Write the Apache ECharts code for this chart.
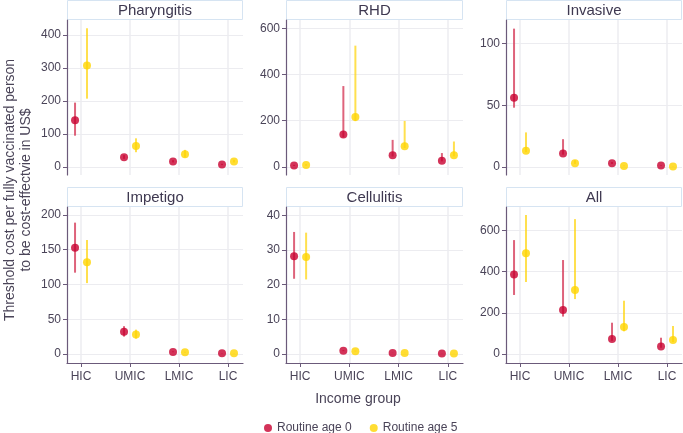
<!DOCTYPE html>
<html><head><meta charset="utf-8">
<script src="https://cdn.jsdelivr.net/npm/echarts@6/dist/echarts.min.js"></script>
<style>html,body{margin:0;padding:0;background:#fff}#c{width:683px;height:433px}</style>
</head><body><div id="c"></div>
<script>
const categories = ['HIC', 'UMIC', 'LMIC', 'LIC'];
const panels = ['Pharyngitis', 'RHD', 'Invasive', 'Impetigo', 'Cellulitis', 'All'];
const seriesNames = ['Routine age 0', 'Routine age 5'];

// point estimates [HIC, UMIC, LMIC, LIC]
const pharyngitis_age0 = [142, 30, 17, 8];
const pharyngitis_age0_lo = [95, 25, 14, 6];
const pharyngitis_age0_hi = [195, 36, 21, 10];
const pharyngitis_age5 = [307, 64, 39, 17];
const pharyngitis_age5_lo = [207, 45, 29, 14];
const pharyngitis_age5_hi = [420, 87, 52, 22];

const rhd_age0 = [6, 140, 51, 27];
const rhd_age0_lo = [4, 128, 45, 24];
const rhd_age0_hi = [9, 350, 117, 60];
const rhd_age5 = [8, 216, 89, 50];
const rhd_age5_lo = [5, 198, 82, 46];
const rhd_age5_hi = [12, 525, 199, 110];

const invasive_age0 = [56, 11, 3, 1.1];
const invasive_age0_lo = [48, 10, 2.5, 0.9];
const invasive_age0_hi = [112, 22.5, 4, 1.4];
const invasive_age5 = [13.2, 3, 0.8, 0.3];
const invasive_age5_lo = [12, 2.5, 0.6, 0.2];
const invasive_age5_hi = [28, 5.5, 1.2, 0.5];

const impetigo_age0 = [153, 32, 3, 1];
const impetigo_age0_lo = [117, 25, 2.5, 0.8];
const impetigo_age0_hi = [189, 40, 3.8, 1.3];
const impetigo_age5 = [132, 28, 2.5, 1];
const impetigo_age5_lo = [102, 22, 2, 0.8];
const impetigo_age5_hi = [164, 35, 3.2, 1.3];

const cellulitis_age0 = [28.2, 0.9, 0.3, 0.15];
const cellulitis_age0_lo = [21.7, 0.8, 0.25, 0.12];
const cellulitis_age0_hi = [35.2, 1.1, 0.35, 0.18];
const cellulitis_age5 = [28, 0.8, 0.3, 0.15];
const cellulitis_age5_lo = [21.5, 0.7, 0.25, 0.12];
const cellulitis_age5_hi = [35, 1.0, 0.35, 0.18];

const all_age0 = [386, 214, 73, 36];
const all_age0_lo = [287, 182, 64, 30];
const all_age0_hi = [554, 457, 152, 79];
const all_age5 = [490, 311, 131, 68];
const all_age5_lo = [350, 267, 110, 58];
const all_age5_hi = [676, 656, 259, 136];

// y tick labels per panel
const yTicks_pharyngitis = [0, 100, 200, 300, 400];
const yTicks_rhd = [0, 200, 400, 600];
const yTicks_invasive = [0, 50, 100];
const yTicks_impetigo = [0, 50, 100, 150, 200];
const yTicks_cellulitis = [0, 10, 20, 30, 40];
const yTicks_all = [0, 200, 400, 600];

const panelData = [
  {v0: pharyngitis_age0, l0: pharyngitis_age0_lo, h0: pharyngitis_age0_hi, v5: pharyngitis_age5, l5: pharyngitis_age5_lo, h5: pharyngitis_age5_hi, ticks: yTicks_pharyngitis, min: -24, max: 445},
  {v0: rhd_age0, l0: rhd_age0_lo, h0: rhd_age0_hi, v5: rhd_age5, l5: rhd_age5_lo, h5: rhd_age5_hi, ticks: yTicks_rhd, min: -35, max: 636},
  {v0: invasive_age0, l0: invasive_age0_lo, h0: invasive_age0_hi, v5: invasive_age5, l5: invasive_age5_lo, h5: invasive_age5_hi, ticks: yTicks_invasive, min: -6.5, max: 119},
  {v0: impetigo_age0, l0: impetigo_age0_lo, h0: impetigo_age0_hi, v5: impetigo_age5, l5: impetigo_age5_lo, h5: impetigo_age5_hi, ticks: yTicks_impetigo, min: -13, max: 211.5},
  {v0: cellulitis_age0, l0: cellulitis_age0_lo, h0: cellulitis_age0_hi, v5: cellulitis_age5, l5: cellulitis_age5_lo, h5: cellulitis_age5_hi, ticks: yTicks_cellulitis, min: -2.6, max: 42.4},
  {v0: all_age0, l0: all_age0_lo, h0: all_age0_hi, v5: all_age5, l5: all_age5_lo, h5: all_age5_hi, ticks: yTicks_all, min: -44, max: 715}
];

const FONT = '"Liberation Sans", Arial, sans-serif';
const TXT = '#4a4458';
const AXIS = '#6b5a7a';
const GRIDC = '#ececf0';
const RED = '#c8002f', RED_BAR = 'rgba(214,60,90,0.8)';
const YEL = '#ffd400', YEL_BAR = 'rgba(255,214,20,0.75)';
const DODGE = 0.122;

const colLeft = [67, 286, 506];
const colW = [176, 177, 176];
const rowTop = [20, 207];
const rowH = [155, 156];

const grids = [], xAxes = [], yAxes = [], series = [], graphics = [];
panels.forEach((name, i) => {
  const r = Math.floor(i / 3), c = i % 3;
  const pd = panelData[i];
  const bottomRow = r === 1;
  grids.push({left: colLeft[c], top: rowTop[r], width: colW[c], height: rowH[r], containLabel: false});
  xAxes.push({
    type: 'value', gridIndex: i, min: 0.714, max: 4.306,
    axisLine: {show: bottomRow, onZero: false, lineStyle: {color: AXIS, width: 1.2}},
    axisTick: {show: bottomRow, customValues: [1, 2, 3, 4], length: 4, lineStyle: {color: AXIS}},
    axisLabel: {show: bottomRow, customValues: [1, 2, 3, 4], formatter: v => categories[Math.round(v) - 1] || '',
      color: TXT, fontFamily: FONT, fontSize: 12, margin: 8},
    splitLine: {show: true, lineStyle: {color: GRIDC, width: 1.5}}
  });
  yAxes.push({
    type: 'value', gridIndex: i, min: pd.min, max: pd.max,
    axisLine: {show: true, onZero: false, lineStyle: {color: AXIS, width: 1.2}},
    axisTick: {show: true, customValues: pd.ticks, length: 4, lineStyle: {color: AXIS}},
    axisLabel: {customValues: pd.ticks, color: TXT, fontFamily: FONT, fontSize: 12, margin: 6},
    splitLine: {show: true, lineStyle: {color: GRIDC, width: 1}}
  });
  const groups = [
    {name: seriesNames[0], v: pd.v0, lo: pd.l0, hi: pd.h0, off: -DODGE, col: RED, bar: RED_BAR},
    {name: seriesNames[1], v: pd.v5, lo: pd.l5, hi: pd.h5, off: DODGE, col: YEL, bar: YEL_BAR}
  ];
  groups.forEach((g, k) => {
    series.push({
      type: 'custom', name: 'err' + k, xAxisIndex: i, yAxisIndex: i, z: 2, silent: true,
      data: categories.map((cat, j) => [j + 1 + g.off, g.lo[j], g.hi[j]]),
      renderItem: (params, api) => {
        const a = api.coord([api.value(0), api.value(1)]);
        const b = api.coord([api.value(0), api.value(2)]);
        return {type: 'line', shape: {x1: a[0], y1: a[1], x2: b[0], y2: b[1]},
          style: {stroke: g.bar, lineWidth: 2}};
      }
    });
  });
  groups.forEach(g => {
    series.push({
      type: 'scatter', name: g.name, xAxisIndex: i, yAxisIndex: i, z: 3,
      symbol: 'circle', symbolSize: 8, itemStyle: {color: g.col},
      data: categories.map((cat, j) => [j + 1 + g.off, g.v[j]])
    });
  });
  // strip header
  const sy = r === 0 ? 0.5 : 187.5;
  graphics.push({type: 'rect', shape: {x: colLeft[c] + 0.5, y: sy, width: colW[c] - 1, height: 19},
    style: {fill: '#fff', stroke: '#d6e4f2', lineWidth: 1}});
  graphics.push({type: 'text', x: colLeft[c] + colW[c] / 2, y: sy + 10,
    style: {text: name, align: 'center', verticalAlign: 'middle', fill: '#3e3850', font: '15px ' + FONT}});
});

graphics.push({type: 'text', x: 358, y: 399, style: {text: 'Income group', align: 'center', verticalAlign: 'middle', fill: TXT, font: '14px ' + FONT}});
graphics.push({type: 'text', x: 18, y: 190, rotation: Math.PI / 2,
  style: {text: 'Threshold cost per fully vaccinated person\nto be cost-effectvie in US$', align: 'center', verticalAlign: 'middle',
    fill: TXT, font: '14px ' + FONT, lineHeight: 16}});

const chart = echarts.init(document.getElementById('c'), null, {renderer: 'canvas'});
chart.setOption({
  animation: false,
  grid: grids, xAxis: xAxes, yAxis: yAxes, series: series,
  legend: {data: seriesNames, left: 262, top: 420, padding: 2, icon: 'circle', itemWidth: 8, itemHeight: 8, itemGap: 18,
    textStyle: {color: TXT, fontFamily: FONT, fontSize: 12}},
  graphic: graphics
});
</script></body></html>
